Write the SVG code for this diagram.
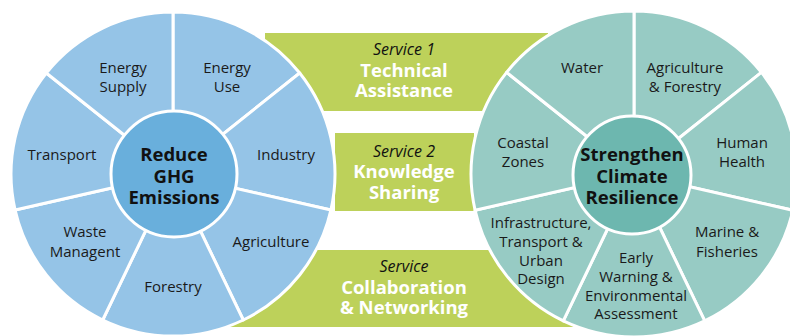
<svg xmlns="http://www.w3.org/2000/svg" width="790" height="336" viewBox="0 0 790 336">
<style>
.band{fill:#bdd15a}
.sb{fill:#95c4e7;stroke:#fff;stroke-width:3;stroke-linejoin:round}
.st{fill:#97cbc4;stroke:#fff;stroke-width:3;stroke-linejoin:round}
.cb{fill:#69afdc;stroke:#fff;stroke-width:3}
.ct{fill:#6db7af;stroke:#fff;stroke-width:3}
text{font-family:"Open Sans","Liberation Sans",sans-serif;text-anchor:middle}
.seg{font-size:15px;fill:#1a1a1a}
.hub{font-size:18.5px;font-weight:700;fill:#111}
.svc{font-size:16px;font-style:italic;fill:#111}
.ttl{font-size:18.5px;font-weight:700;fill:#fff}
</style>
<g id="service1"><rect class="band" x="265" y="33" width="283" height="78"/></g>
<g id="service2"><rect class="band" x="335" y="133" width="139" height="78"/></g>
<g id="service3"><rect class="band" x="225" y="250" width="350" height="77"/></g>

<g id="left-wheel">
<g id="energy-use"><path class="sb" d="M173 174 L173 12 A162 162 0 0 1 299.7 73 Z"/><text class="seg" x="227" y="73">Energy</text><text class="seg" x="227" y="92">Use</text></g>
<g id="industry"><path class="sb" d="M173 174 L299.7 73 A162 162 0 0 1 330.9 210 Z"/><text class="seg" x="286" y="160">Industry</text></g>
<g id="agriculture"><path class="sb" d="M173 174 L330.9 210 A162 162 0 0 1 243.3 320 Z"/><text class="seg" x="271" y="247">Agriculture</text></g>
<g id="forestry"><path class="sb" d="M173 174 L243.3 320 A162 162 0 0 1 102.7 320 Z"/><text class="seg" x="173" y="292">Forestry</text></g>
<g id="waste"><path class="sb" d="M173 174 L102.7 320 A162 162 0 0 1 15.1 210 Z"/><text class="seg" x="85" y="237">Waste</text><text class="seg" x="85" y="257">Managent</text></g>
<g id="transport"><path class="sb" d="M173 174 L15.1 210 A162 162 0 0 1 46.3 73 Z"/><text class="seg" x="62" y="160">Transport</text></g>
<g id="energy-supply"><path class="sb" d="M173 174 L46.3 73 A162 162 0 0 1 173 12 Z"/><text class="seg" x="123" y="73">Energy</text><text class="seg" x="123" y="92">Supply</text></g>
<g id="reduce-ghg"><circle class="cb" cx="174" cy="174" r="63"/><text class="hub" x="174" y="161">Reduce</text><text class="hub" x="174" y="183">GHG</text><text class="hub" x="174" y="204">Emissions</text></g>
</g>

<g id="right-wheel">
<g id="agri-forestry"><path class="st" d="M634 174 L634 11 A163 163 0 0 1 761.4 72.4 Z"/><text class="seg" x="685" y="73">Agriculture</text><text class="seg" x="685" y="92">&amp; Forestry</text></g>
<g id="human-health"><path class="st" d="M634 174 L761.4 72.4 A163 163 0 0 1 792.9 210.3 Z"/><text class="seg" x="742" y="148">Human</text><text class="seg" x="742" y="167">Health</text></g>
<g id="marine"><path class="st" d="M634 174 L792.9 210.3 A163 163 0 0 1 704.7 320.9 Z"/><text class="seg" x="727" y="237">Marine &amp;</text><text class="seg" x="727" y="257">Fisheries</text></g>
<g id="early-warning"><path class="st" d="M634 174 L704.7 320.9 A163 163 0 0 1 563.3 320.9 Z"/><text class="seg" x="636" y="263">Early</text><text class="seg" x="636" y="282">Warning &amp;</text><text class="seg" x="636" y="301">Environmental</text><text class="seg" x="636" y="319">Assessment</text></g>
<g id="infrastructure"><path class="st" d="M634 174 L563.3 320.9 A163 163 0 0 1 475.1 210.3 Z"/><text class="seg" x="541" y="228">Infrastructure,</text><text class="seg" x="541" y="247">Transport &amp;</text><text class="seg" x="541" y="266">Urban</text><text class="seg" x="541" y="284">Design</text></g>
<g id="coastal"><path class="st" d="M634 174 L475.1 210.3 A163 163 0 0 1 506.6 72.4 Z"/><text class="seg" x="523" y="148">Coastal</text><text class="seg" x="523" y="167">Zones</text></g>
<g id="water"><path class="st" d="M634 174 L506.6 72.4 A163 163 0 0 1 634 11 Z"/><text class="seg" x="582" y="73">Water</text></g>
<g id="strengthen"><circle class="ct" cx="632" cy="175" r="59"/><text class="hub" x="632" y="161">Strengthen</text><text class="hub" x="632" y="183">Climate</text><text class="hub" x="632" y="204">Resilience</text></g>
</g>

<g id="service-labels">
<text class="svc" x="404" y="55">Service 1</text><text class="ttl" x="404" y="77">Technical</text><text class="ttl" x="404" y="97">Assistance</text>
<text class="svc" x="404" y="157">Service 2</text><text class="ttl" x="404" y="178">Knowledge</text><text class="ttl" x="404" y="199">Sharing</text>
<text class="svc" x="404" y="272">Service</text><text class="ttl" x="404" y="294">Collaboration</text><text class="ttl" x="404" y="314">&amp; Networking</text>
</g>
<g id="connectors"/>
</svg>
